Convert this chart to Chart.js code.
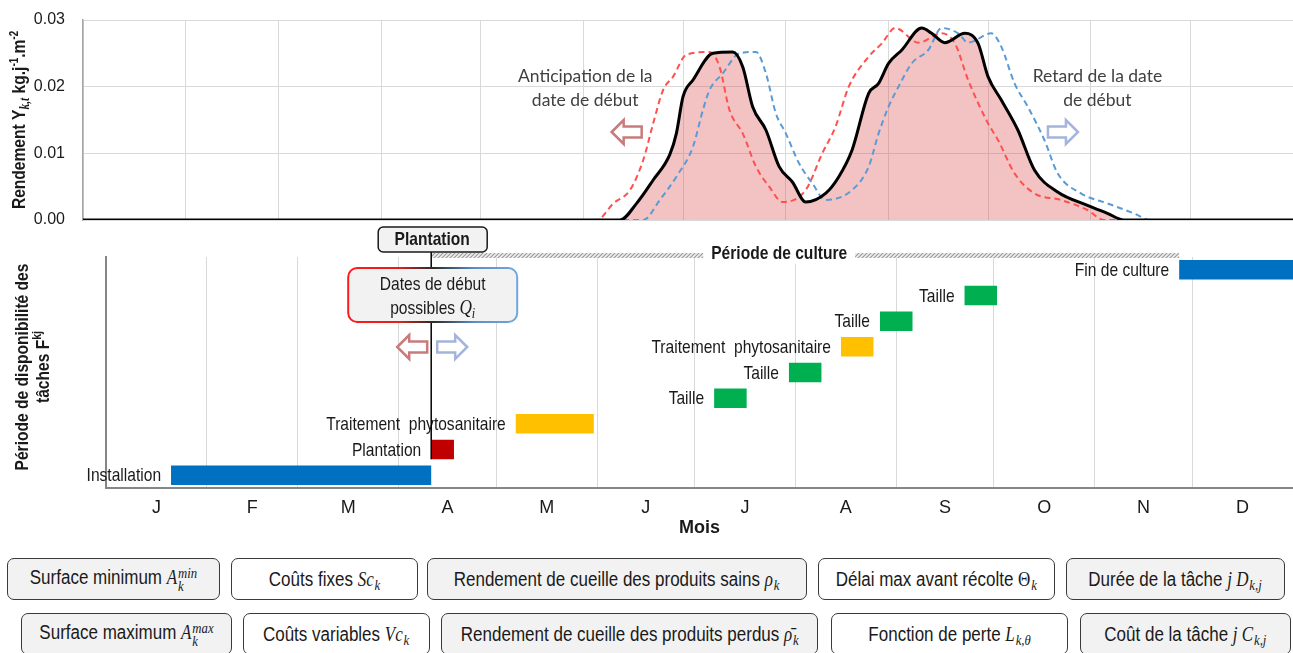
<!DOCTYPE html>
<html lang="fr">
<head>
<meta charset="utf-8">
<title>Rendement et période de disponibilité des tâches</title>
<script src="https://cdn.jsdelivr.net/npm/chart.js@4.4.1/dist/chart.umd.min.js"></script>
<style>
  html, body { margin: 0; padding: 0; background: #fff; }
  body {
    width: 1293px; height: 653px; position: relative; overflow: hidden;
    font-family: 'Liberation Sans', Arial, sans-serif;
    color: #1a1a1a;
  }
  #yieldWrap { position: absolute; left: 0; top: 0; width: 1293px; height: 232px; }
  #taskWrap { position: absolute; left: 0; top: 224px; width: 1293px; height: 318px; }
  .box {
    position: absolute; height: 42px; box-sizing: border-box;
    border: 1.5px solid #3a3a3a; border-radius: 7px; background: #fff;
    display: flex; align-items: center; justify-content: center;
    white-space: nowrap;
  }
  .grey { background: #f2f2f2; }
  .r1 { top: 558px; }
  .r2 { top: 613px; }
  /* condensed look of the original labels */
  .t { display: inline-block; font-size: 20px; line-height: 24px; transform: scaleX(0.85); }
  .m { font-family: 'Liberation Serif', 'DejaVu Serif', serif; font-style: italic; }
  .s { font-family: 'Liberation Serif', 'DejaVu Serif', serif; }
  .t sub { font-size: 15px; line-height: 0; vertical-align: -4px; margin-left: 1px; }
  .ss { display: inline-flex; flex-direction: column; font-size: 15px; line-height: 13px; vertical-align: 6px; margin-left: 1px; }
</style>
</head>
<body>
<div id="yieldWrap"><canvas id="yieldChart" width="1293" height="232"></canvas></div>
<div id="taskWrap"><canvas id="taskChart" width="1293" height="318"></canvas></div>

<div class="box grey r1" style="left:7px;width:213px"><span class="t">Surface minimum <span class="m">A</span><span class="ss m"><span>min</span><span>k</span></span></span></div>
<div class="box r1" style="left:231px;width:187px"><span class="t">Coûts fixes <span class="m">Sc</span><sub class="m">k</sub></span></div>
<div class="box grey r1" style="left:427px;width:380px"><span class="t">Rendement de cueille des produits sains <span class="m">ρ</span><sub class="m">k</sub></span></div>
<div class="box r1" style="left:818px;width:237px"><span class="t">Délai max avant récolte <span class="s">Θ</span><sub class="m">k</sub></span></div>
<div class="box grey r1" style="left:1066px;width:219px"><span class="t">Durée de la tâche <span class="m">j D</span><sub class="m">k,j</sub></span></div>

<div class="box grey r2" style="left:21px;width:211px"><span class="t">Surface maximum <span class="m">A</span><span class="ss m"><span>max</span><span>k</span></span></span></div>
<div class="box r2" style="left:243px;width:187px"><span class="t">Coûts variables <span class="m">Vc</span><sub class="m">k</sub></span></div>
<div class="box grey r2" style="left:441px;width:377px"><span class="t">Rendement de cueille des produits perdus <span class="m">ρ̄</span><sub class="m">k</sub></span></div>
<div class="box r2" style="left:831px;width:237px"><span class="t">Fonction de perte <span class="m">L</span><sub class="m">k,θ</sub></span></div>
<div class="box grey r2" style="left:1080px;width:211px"><span class="t">Coût de la tâche <span class="m">j C</span><sub class="m">k,j</sub></span></div>

<script>
'use strict';

// ---- data ----
const monthLabels = ['J', 'F', 'M', 'A', 'M', 'J', 'J', 'A', 'S', 'O', 'N', 'D'];
const monthStarts = [0, 31, 59, 90, 120, 151, 181, 212, 243, 273, 304, 334, 365];

// yield curves: day of year -> kg.j-1.m-2
const refDays = [0, 162, 167, 172, 177, 179, 181, 184, 190, 196, 199, 202, 206, 210, 214, 218, 224, 228, 232, 237,
  240, 243, 247, 253, 256, 260, 266, 270, 273, 277, 282, 287, 294, 303, 309, 314, 365];
const refYield = [0, 0, 0.0025, 0.006, 0.0098, 0.013, 0.0185, 0.021, 0.025, 0.0252, 0.023, 0.017, 0.0135, 0.008, 0.0057, 0.0027, 0.004, 0.0065, 0.0105, 0.019,
  0.0205, 0.0235, 0.0255, 0.0288, 0.028, 0.0266, 0.028, 0.0265, 0.0215, 0.018, 0.0135, 0.0075, 0.0042, 0.0022, 0.001, 0, 0];

const earlyDays = [0, 155, 160, 165, 169, 172, 175, 178, 182, 189, 192, 195, 199, 203, 207, 211, 218, 223, 227, 231,
  237, 241, 245, 252, 259, 263, 267, 273, 276, 281, 287, 295, 303, 308, 365];
const earlyYield = [0, 0, 0.0025, 0.0045, 0.009, 0.0145, 0.0195, 0.0215, 0.0248, 0.0252, 0.023, 0.0165, 0.013, 0.008, 0.005, 0.0027, 0.0045, 0.01, 0.014, 0.02,
  0.0245, 0.0265, 0.0288, 0.0266, 0.028, 0.0265, 0.021, 0.0145, 0.012, 0.007, 0.004, 0.003, 0.0015, 0, 0];

const lateDays = [0, 169, 174, 179, 184, 187, 189, 193, 198, 203, 206, 209, 212, 216, 220, 224, 232, 237, 240, 243,
  246, 250, 255, 259, 264, 267, 274, 277, 281, 285, 290, 294, 301, 309, 317, 322, 365];
const lateYield = [0, 0, 0.003, 0.0065, 0.011, 0.0165, 0.0195, 0.022, 0.025, 0.0252, 0.022, 0.016, 0.013, 0.0085, 0.0055, 0.003, 0.0045, 0.008, 0.013, 0.017,
  0.02, 0.0235, 0.0255, 0.0288, 0.028, 0.0266, 0.028, 0.026, 0.0205, 0.017, 0.012, 0.007, 0.004, 0.0025, 0.001, 0, 0];

// task availability windows (day of year), bottom row first
const taskNames = ['Installation', 'Plantation', 'Traitement  phytosanitaire', 'Taille', 'Taille',
  'Traitement  phytosanitaire', 'Taille', 'Taille', 'Fin de culture'];
const taskStart = [20, 100, 126, 187, 210, 226, 238, 264, 330];
const taskEnd = [100, 107, 150, 197, 220, 236, 248, 274, 365];
const taskColors = ['#0070c0', '#c00000', '#ffc000', '#00b050', '#00b050', '#ffc000', '#00b050', '#00b050', '#0070c0'];

const plantingDay = 100;
const cultureEnd = 330;

// ---- helpers ----
const SANS = "'Liberation Sans', Arial, sans-serif";
const SERIF = "'Liberation Serif', 'DejaVu Serif', serif";
const INK = '#1a1a1a';
const SQUEEZE = 0.82; // the source text is a condensed Arial

function series(days, values) {
  return days.map(function(d, i) { return { x: d, y: values[i] }; });
}

// single line of condensed text
function fillSqueezed(ctx, text, x, y) {
  ctx.save();
  ctx.translate(x, y);
  ctx.scale(SQUEEZE, 1);
  ctx.fillText(text, 0, 0);
  ctx.restore();
}

// run of text pieces (sub/superscripts), condensed, centred on cx, baseline at cy
function drawRuns(ctx, runs, cx, cy) {
  let total = 0;
  runs.forEach(function(r) {
    ctx.font = r.font;
    r.w = ctx.measureText(r.text).width;
    total += r.w;
  });
  ctx.save();
  ctx.translate(cx, cy);
  ctx.scale(SQUEEZE, 1);
  ctx.textAlign = 'left';
  ctx.textBaseline = 'alphabetic';
  let x = -total / 2;
  runs.forEach(function(r) {
    ctx.font = r.font;
    ctx.fillText(r.text, x, r.dy || 0);
    x += r.w;
  });
  ctx.restore();
}

// hollow block arrow, dir = 1 points right, -1 points left
function drawArrow(ctx, cx, cy, dir, color) {
  const w = 30, h = 24, shaft = 11, head = 12;
  ctx.save();
  ctx.translate(cx, cy);
  ctx.scale(dir, 1);
  ctx.beginPath();
  ctx.moveTo(w / 2, 0);
  ctx.lineTo(w / 2 - head, -h / 2);
  ctx.lineTo(w / 2 - head, -shaft / 2);
  ctx.lineTo(-w / 2, -shaft / 2);
  ctx.lineTo(-w / 2, shaft / 2);
  ctx.lineTo(w / 2 - head, shaft / 2);
  ctx.lineTo(w / 2 - head, h / 2);
  ctx.closePath();
  ctx.fillStyle = '#fff';
  ctx.fill();
  ctx.lineWidth = 2.5;
  ctx.strokeStyle = color;
  ctx.stroke();
  ctx.restore();
}

function hatchPattern(ctx) {
  const c = document.createElement('canvas');
  c.width = 4;
  c.height = 4;
  const g = c.getContext('2d');
  g.fillStyle = '#efefef';
  g.fillRect(0, 0, 4, 4);
  g.strokeStyle = '#9a9a9a';
  g.lineWidth = 1.2;
  g.beginPath();
  g.moveTo(0, 4); g.lineTo(4, 0);
  g.moveTo(-1, 1); g.lineTo(1, -1);
  g.moveTo(3, 5); g.lineTo(5, 3);
  g.stroke();
  return ctx.createPattern(c, 'repeat');
}

// ---- top chart annotations ----
const yieldNotes = {
  id: 'yieldNotes',
  afterDraw(chart) {
    const { ctx, scales: { x, y } } = chart;
    ctx.save();
    ctx.fillStyle = '#404040';
    ctx.font = "17.5px Lato, 'Open Sans', sans-serif";
    ctx.textAlign = 'center';
    ctx.textBaseline = 'middle';
    ctx.fillText('Anticipation de la', x.getPixelForValue(151.5), y.getPixelForValue(0.0215));
    ctx.fillText('date de début', x.getPixelForValue(151.5), y.getPixelForValue(0.018));
    ctx.fillText('Retard de la date', x.getPixelForValue(306), y.getPixelForValue(0.0215));
    ctx.fillText('de début', x.getPixelForValue(306), y.getPixelForValue(0.018));
    drawArrow(ctx, x.getPixelForValue(164), y.getPixelForValue(0.0132), -1, '#c97b7b');
    drawArrow(ctx, x.getPixelForValue(295.6), y.getPixelForValue(0.0132), 1, '#a4b4dc');

    // y axis title with sub/superscripts
    ctx.fillStyle = INK;
    ctx.translate(25, (chart.chartArea.top + chart.chartArea.bottom) / 2);
    ctx.rotate(-Math.PI / 2);
    drawRuns(ctx, [
      { text: 'Rendement Y', font: 'bold 19px ' + SANS },
      { text: 'k,t', font: 'italic bold 14px ' + SERIF, dy: 4 },
      { text: ' kg.j', font: 'bold 19px ' + SANS },
      { text: '-1', font: 'bold 12px ' + SANS, dy: -7 },
      { text: '.m', font: 'bold 19px ' + SANS },
      { text: '-2', font: 'bold 12px ' + SANS, dy: -7 }
    ], 0, 0);
    ctx.restore();
  }
};

// ---- bottom chart annotations ----
const taskNotes = {
  id: 'taskNotes',
  afterDatasetsDraw(chart) {
    const { ctx, chartArea: area, scales: { x } } = chart;
    const bars = chart.getDatasetMeta(0).data;
    const px = x.getPixelForValue(plantingDay);
    const pEnd = x.getPixelForValue(cultureEnd);
    ctx.save();

    // task labels left of each bar
    ctx.font = '19px ' + SANS;
    ctx.fillStyle = INK;
    ctx.textAlign = 'right';
    ctx.textBaseline = 'middle';
    bars.forEach(function(bar, i) {
      fillSqueezed(ctx, taskNames[i], Math.min(bar.base, bar.x) - 10, bar.y + 1);
    });

    // période de culture band
    ctx.fillStyle = hatchPattern(ctx);
    ctx.fillRect(px, area.top - 4, pEnd - px, 5);
    ctx.font = 'bold 19px ' + SANS;
    const lx = x.getPixelForValue(207);
    const tw = ctx.measureText('Période de culture').width * SQUEEZE;
    ctx.fillStyle = '#fff';
    ctx.fillRect(lx - tw / 2 - 8, area.top - 14, tw + 16, 21);
    ctx.fillStyle = INK;
    ctx.textAlign = 'center';
    fillSqueezed(ctx, 'Période de culture', lx, area.top - 3);

    // plantation date line
    const plant = bars[1];
    ctx.strokeStyle = '#000';
    ctx.lineWidth = 1.5;
    ctx.beginPath();
    ctx.moveTo(px, 28);
    ctx.lineTo(px, plant.y + plant.height / 2);
    ctx.stroke();

    // plantation label box
    ctx.beginPath();
    ctx.roundRect(px - 53, 3, 109, 25, 5);
    ctx.fillStyle = '#f2f2f2';
    ctx.fill();
    ctx.strokeStyle = INK;
    ctx.lineWidth = 1.5;
    ctx.stroke();
    ctx.fillStyle = INK;
    ctx.font = 'bold 19px ' + SANS;
    fillSqueezed(ctx, 'Plantation', px + 1, 16);

    // possible start dates box
    const bx = px - 83, bw = 169;
    const grad = ctx.createLinearGradient(bx, 0, bx + bw, 0);
    grad.addColorStop(0, '#ff1a1a');
    grad.addColorStop(0.3, '#e02020');
    grad.addColorStop(0.5, '#2a2a2a');
    grad.addColorStop(0.75, '#5b8fc8');
    grad.addColorStop(1, '#6fa8dc');
    ctx.beginPath();
    ctx.roundRect(bx, 44, bw, 54, 9);
    ctx.fillStyle = '#f2f2f2';
    ctx.fill();
    ctx.strokeStyle = grad;
    ctx.lineWidth = 2;
    ctx.stroke();
    ctx.fillStyle = INK;
    ctx.font = '19px ' + SANS;
    ctx.textAlign = 'center';
    ctx.textBaseline = 'middle';
    fillSqueezed(ctx, 'Dates de début', bx + bw / 2, 61);
    drawRuns(ctx, [
      { text: 'possibles ', font: '19px ' + SANS },
      { text: 'Q', font: 'italic 21px ' + SERIF },
      { text: 'i', font: 'italic 15px ' + SERIF, dy: 4 }
    ], bx + bw / 2, 90);

    drawArrow(ctx, px - 19, 123, -1, '#c97b7b');
    drawArrow(ctx, px + 21, 123, 1, '#a4b4dc');

    // y axis title, two lines
    ctx.fillStyle = INK;
    ctx.translate(0, 143);
    ctx.rotate(-Math.PI / 2);
    drawRuns(ctx, [{ text: 'Période de disponibilité des', font: 'bold 19px ' + SANS }], 0, 28);
    drawRuns(ctx, [
      { text: 'tâches F', font: 'bold 19px ' + SANS },
      { text: 'kj', font: 'bold 13px ' + SANS, dy: -8 }
    ], 0, 49);
    ctx.restore();
  }
};

// ---- top chart: yield curves ----
new Chart(document.getElementById('yieldChart'), {
  type: 'line',
  data: {
    datasets: [
      {
        label: 'Date de début',
        data: series(refDays, refYield),
        borderColor: '#000',
        borderWidth: 3,
        backgroundColor: 'rgba(220, 80, 80, 0.35)',
        fill: 'origin',
        order: 0
      },
      {
        label: 'Anticipation',
        data: series(earlyDays, earlyYield),
        borderColor: '#ff5050',
        borderWidth: 2,
        borderDash: [6, 4],
        fill: false,
        order: 1
      },
      {
        label: 'Retard',
        data: series(lateDays, lateYield),
        borderColor: '#5b9bd5',
        borderWidth: 2,
        borderDash: [6, 4],
        fill: false,
        order: 2
      }
    ]
  },
  options: {
    responsive: false,
    animation: false,
    layout: { padding: { top: 20, bottom: 12, left: 0, right: 0 } },
    elements: {
      point: { radius: 0 },
      line: { cubicInterpolationMode: 'monotone' }
    },
    plugins: {
      legend: { display: false },
      tooltip: { enabled: false },
      filler: { drawTime: 'beforeDatasetsDraw' }
    },
    scales: {
      x: {
        type: 'linear',
        min: 0,
        max: 365,
        afterBuildTicks: function(axis) {
          axis.ticks = monthStarts.map(function(v) { return { value: v }; });
        },
        ticks: { display: false },
        grid: { color: '#d9d9d9', drawTicks: false },
        border: { display: false }
      },
      y: {
        min: 0,
        max: 0.03,
        ticks: {
          stepSize: 0.01,
          padding: 0,
          color: INK,
          font: { family: SANS, size: 16 },
          callback: function(v) { return v.toFixed(2); }
        },
        // transparent tick marks keep the labels away from the axis without extra padding
        grid: { color: '#d9d9d9', drawTicks: true, tickLength: 18, tickColor: 'rgba(0,0,0,0)' },
        border: { color: '#a6a6a6', width: 1.5 },
        afterFit: function(scale) { scale.width = 83; }
      }
    }
  },
  plugins: [yieldNotes]
});

// ---- bottom chart: task windows ----
const monthTicks = [];
monthStarts.forEach(function(d, i) {
  monthTicks.push(d);
  if (i < monthLabels.length) monthTicks.push((d + monthStarts[i + 1]) / 2);
});

new Chart(document.getElementById('taskChart'), {
  type: 'bar',
  data: {
    labels: taskNames,
    datasets: [{
      data: taskNames.map(function(_, i) { return [taskStart[i], taskEnd[i]]; }),
      backgroundColor: taskColors,
      borderWidth: 0,
      barPercentage: 0.76,
      categoryPercentage: 1
    }]
  },
  options: {
    indexAxis: 'y',
    responsive: false,
    animation: false,
    layout: { padding: { top: 33, left: 0, right: 0, bottom: 0 } },
    plugins: {
      legend: { display: false },
      tooltip: { enabled: false }
    },
    scales: {
      x: {
        type: 'linear',
        min: 0,
        max: 365,
        afterBuildTicks: function(axis) {
          axis.ticks = monthTicks.map(function(v) { return { value: v }; });
        },
        ticks: {
          autoSkip: false,
          maxRotation: 0,
          padding: 0,
          color: INK,
          font: { family: SANS, size: 18 },
          callback: function(v, i) { return i % 2 ? monthLabels[(i - 1) / 2] : ''; }
        },
        grid: {
          drawTicks: true,
          tickLength: 9,
          tickColor: 'rgba(0,0,0,0)',
          color: function(c) { return c.index % 2 ? 'rgba(0,0,0,0)' : '#d9d9d9'; }
        },
        border: { color: '#868686', width: 2 },
        title: {
          display: true,
          text: 'Mois',
          color: INK,
          font: { family: SANS, size: 18, weight: 'bold' },
          padding: { top: 0, bottom: 3 }
        },
        afterFit: function(scale) { scale.height = 54; }
      },
      y: {
        reverse: true,
        ticks: { display: false },
        grid: { display: false },
        border: { color: '#868686', width: 2 },
        afterFit: function(scale) { scale.width = 106; }
      }
    }
  },
  plugins: [taskNotes]
});
</script>
</body>
</html>
